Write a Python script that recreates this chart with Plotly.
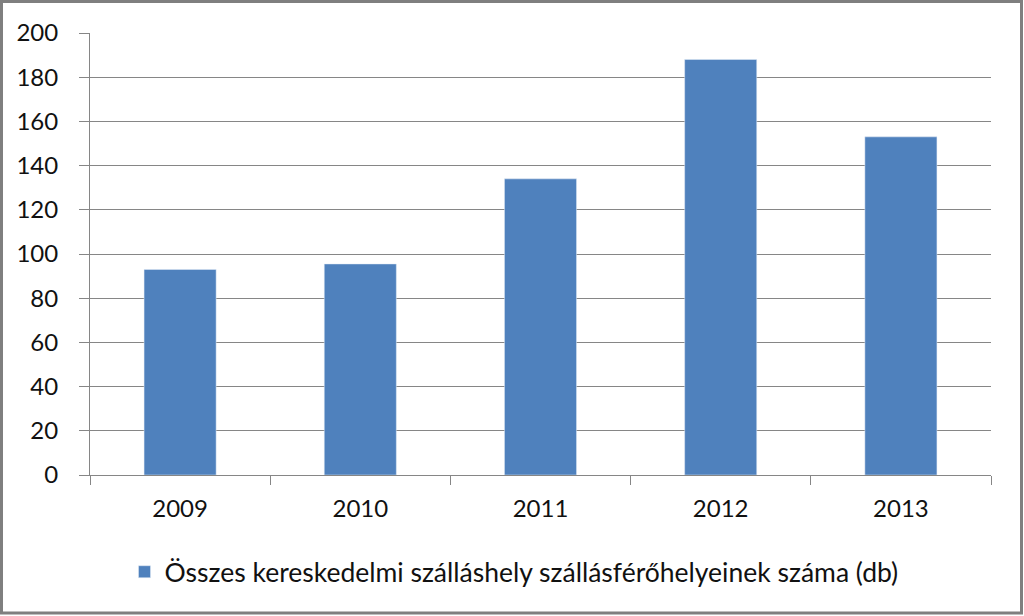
import plotly.graph_objects as go

years = ["2009", "2010", "2011", "2012", "2013"]
counts = [93, 95.5, 134, 188, 153]
series_name = "Összes kereskedelmi szálláshely szállásférőhelyeinek száma (db)"

W, H = 1024, 616
ml, mr, mt, mb = 90, 33, 33, 141
pw, ph = W - ml - mr, H - mt - mb


def px_x(x):
    return (x - ml) / pw


def px_y(y):
    return (H - mb - y) / ph


fig = go.Figure(
    go.Bar(
        x=years,
        y=counts,
        name=series_name,
        marker_color="#4F81BD",
        showlegend=True,
    )
)

fig.update_layout(
    width=W,
    height=H,
    margin=dict(l=ml, r=mr, t=mt, b=mb),
    paper_bgcolor="white",
    plot_bgcolor="white",
    bargap=0.6,
    font=dict(family="Lato, Open Sans, sans-serif", size=24, color="#111111"),
    showlegend=True,
    legend=dict(
        orientation="h",
        x=px_x(514),
        xanchor="center",
        y=px_y(572),
        yanchor="middle",
        font=dict(size=26.5),
    ),
    shapes=[
        dict(
            type="rect",
            xref="paper",
            yref="paper",
            x0=px_x(1.5),
            x1=px_x(1021.5),
            y0=px_y(613),
            y1=px_y(1.5),
            line=dict(color="#7f7f7f", width=3),
            layer="below",
        )
    ],
)

fig.update_xaxes(
    showline=True,
    linecolor="#868686",
    linewidth=1,
    ticks="outside",
    tickson="boundaries",
    ticklen=9,
    tickcolor="#868686",
    ticklabelstandoff=12,
    showgrid=False,
)

fig.update_yaxes(
    range=[0, 200],
    dtick=20,
    showline=True,
    linecolor="#868686",
    linewidth=1,
    ticks="outside",
    ticklen=10,
    tickcolor="#868686",
    ticklabelstandoff=16,
    showgrid=True,
    gridcolor="#868686",
    gridwidth=1,
    zeroline=False,
)

# page has a default body margin; drop it so the chart sits at 0,0
fig.write_html(
    "out.html",
    config={"displayModeBar": False},
    post_script="document.body.style.margin='0';",
)
